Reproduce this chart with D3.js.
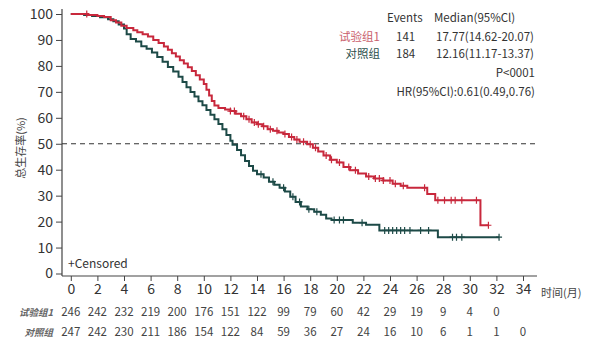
<!DOCTYPE html>
<html>
<head>
<meta charset="utf-8">
<script src="https://cdn.jsdelivr.net/npm/d3@7"></script>
<style>
  body { margin: 0; background: #fff; }
  text { font-family: "Noto Sans CJK SC", "Noto Sans", sans-serif; }
</style>
</head>
<body>
<div id="chart"></div>
<script>
'use strict';

// step points of the two KM curves: time (months) and survival (%)
const trialTimes = [0, 1.3, 2.0, 2.5, 3.0, 3.4, 3.8, 4.2, 4.7, 5.0, 5.4, 5.8, 6.2, 6.6, 7.0, 7.3, 7.6, 7.9, 8.2, 8.5, 8.8, 9.1, 9.4, 9.7, 10.0, 10.2, 10.4, 10.6, 10.8, 11.1, 11.6, 12.0, 12.4, 12.8, 13.2, 13.6, 14.0, 14.4, 14.8, 15.2, 15.6, 16.0, 16.4, 16.8, 17.2, 17.77, 18.2, 18.6, 19.0, 19.5, 20.0, 20.5, 21.0, 21.6, 22.2, 22.8, 23.5, 24.2, 24.8, 25.3, 26.8, 27.4, 30.8];
const trialSurv = [100, 99.6, 99.2, 98.8, 97.6, 96.7, 95.5, 94.6, 93.7, 93.0, 92.2, 91.3, 90.0, 88.8, 87.5, 86.2, 84.9, 83.6, 82.2, 80.9, 79.5, 78.0, 76.4, 74.8, 73.0, 70.8, 68.6, 66.5, 64.7, 63.8, 63.2, 62.6, 61.6, 60.6, 59.4, 58.2, 57.5, 56.7, 55.6, 55.0, 54.3, 53.8, 52.6, 51.6, 50.8, 49.8, 48.5, 47.0, 45.5, 43.8, 42.8, 41.0, 39.8, 38.5, 37.4, 36.6, 35.8, 34.6, 33.8, 33.0, 30.6, 28.2, 18.6];
const trialEnd = 31.4;
const trialCensor = [1.2, 12.0, 12.3, 13.0, 13.4, 13.8, 14.1, 14.5, 15.0, 15.5, 16.1, 16.6, 17.0, 17.5, 18.0, 18.4, 19.2, 19.6, 20.2, 20.9, 21.4, 22.4, 22.9, 23.2, 23.5, 24.0, 24.4, 25.0, 26.6, 27.6, 28.1, 28.6, 28.9, 29.4, 30.5, 31.4];

const ctrlTimes = [0, 1.0, 1.6, 2.2, 2.8, 3.2, 3.6, 4.0, 4.2, 4.5, 4.9, 5.3, 5.7, 6.1, 6.5, 6.9, 7.3, 7.7, 8.1, 8.4, 8.7, 9.0, 9.3, 9.6, 9.9, 10.2, 10.5, 10.8, 11.1, 11.4, 11.7, 12.0, 12.16, 12.5, 12.8, 13.1, 13.4, 13.7, 14.0, 14.5, 14.9, 15.3, 15.7, 16.1, 16.5, 16.9, 17.3, 17.8, 18.3, 18.8, 19.2, 19.6, 21.2, 22.2, 23.2, 27.6];
const ctrlSurv = [100, 99.6, 99.2, 98.7, 98.0, 97.2, 96.0, 94.4, 92.2, 90.4, 89.4, 87.6, 86.6, 85.2, 83.4, 81.6, 79.6, 77.8, 75.8, 73.8, 71.8, 69.9, 68.2, 66.4, 64.8, 63.0, 61.2, 59.4, 57.6, 55.6, 53.4, 51.2, 49.6, 47.6, 45.6, 43.4, 41.4, 39.6, 38.2, 37.0, 35.4, 34.2, 33.0, 31.6, 29.6, 27.6, 25.8, 24.8, 23.8, 22.6, 21.2, 20.6, 19.6, 18.8, 16.6, 14.0];
const ctrlEnd = 32.2;
const ctrlCensor = [14.3, 15.2, 16.0, 16.7, 17.2, 17.9, 18.5, 19.8, 20.2, 20.5, 21.9, 23.6, 23.9, 24.2, 24.5, 24.8, 25.1, 25.5, 26.3, 26.9, 28.7, 29.0, 29.4, 32.2];

// number at risk
const riskTimes = [0, 2, 4, 6, 8, 10, 12, 14, 16, 18, 20, 22, 24, 26, 28, 30, 32, 34];
const trialRisk = [246, 242, 232, 219, 200, 176, 151, 122, 99, 79, 60, 42, 29, 19, 9, 4, 0];
const ctrlRisk = [247, 242, 230, 211, 186, 154, 122, 84, 59, 36, 27, 24, 16, 10, 6, 1, 1, 0];

const xTicks = [0, 2, 4, 6, 8, 10, 12, 14, 16, 18, 20, 22, 24, 26, 28, 30, 32, 34];
const yTicks = [0, 10, 20, 30, 40, 50, 60, 70, 80, 90, 100];

const RED = "#c8283c";
const TEAL = "#1d4a47";

const width = 592, height = 349;
const svg = d3.select("#chart").append("svg")
    .attr("width", width)
    .attr("height", height);

const x = d3.scaleLinear().domain([0, 34]).range([70.8, 523]);
const y = d3.scaleLinear().domain([0, 100]).range([273.5, 14]);

// axes
const xAxis = svg.append("g")
    .attr("transform", "translate(0,276)")
    .call(d3.axisBottom(x).tickValues(xTicks).tickSize(5).tickPadding(3));
xAxis.select(".domain").attr("d", "M62,0H537").attr("stroke", "#444").attr("stroke-width", 1.2);
xAxis.selectAll(".tick line").attr("stroke", "#444");
xAxis.selectAll("text").attr("font-size", 14).attr("fill", "#333")
    .style("font-family", "'Noto Sans CJK SC', sans-serif");

const yAxis = svg.append("g")
    .attr("transform", "translate(62,0)")
    .call(d3.axisLeft(y).tickValues(yTicks).tickSize(6).tickPadding(3));
yAxis.select(".domain").attr("d", "M0,9V276").attr("stroke", "#444").attr("stroke-width", 1.2);
yAxis.selectAll(".tick line").attr("stroke", "#444");
yAxis.selectAll("text").attr("font-size", 14).attr("fill", "#333")
    .style("font-family", "'Noto Sans CJK SC', sans-serif");

// median reference line
svg.append("line")
    .attr("x1", 62).attr("x2", 537)
    .attr("y1", y(50)).attr("y2", y(50))
    .attr("stroke", "#333")
    .attr("stroke-dasharray", "5,4")
    .attr("stroke-width", 1);

function stepPoints(times, surv, end) {
    const pts = times.map((t, i) => [t, surv[i]]);
    pts.push([end, surv[surv.length - 1]]);
    return pts;
}

function survAt(times, surv, t) {
    let s = surv[0];
    for (let i = 0; i < times.length; i++) {
        if (times[i] <= t) s = surv[i];
    }
    return s;
}

const line = d3.line()
    .x(d => x(d[0]))
    .y(d => y(d[1]))
    .curve(d3.curveStepAfter);

function drawGroup(times, surv, end, censor, color) {
    svg.append("path")
        .datum(stepPoints(times, surv, end))
        .attr("d", line)
        .attr("fill", "none")
        .attr("stroke", color)
        .attr("stroke-width", 2);

    svg.selectAll(null)
        .data(censor)
        .enter()
        .append("path")
        .attr("d", function(t) {
            const cx = x(t), cy = y(survAt(times, surv, t));
            return `M${cx - 3},${cy}H${cx + 3}M${cx},${cy - 3.5}V${cy + 3.5}`;
        })
        .attr("stroke", color)
        .attr("stroke-width", 1.2);
}

drawGroup(ctrlTimes, ctrlSurv, ctrlEnd, ctrlCensor, TEAL);
drawGroup(trialTimes, trialSurv, trialEnd, trialCensor, RED);

// y axis title
svg.append("text")
    .text("总生存率(%)")
    .attr("transform", "translate(25,148) rotate(-90)")
    .attr("text-anchor", "middle")
    .attr("font-size", 11)
    .attr("fill", "#444");

// x axis title
svg.append("text")
    .text("时间(月)")
    .attr("x", 541).attr("y", 297)
    .attr("font-size", 11)
    .attr("fill", "#444");

svg.append("text")
    .text("+Censored")
    .attr("x", 68).attr("y", 268)
    .attr("font-size", 12)
    .attr("fill", "#333");

// legend block
const legend = svg.append("g").attr("font-size", 11.5).attr("fill", "#333");
legend.append("text").text("Events").attr("x", 387).attr("y", 22);
legend.append("text").text("Median(95%Cl)").attr("x", 434).attr("y", 22);
legend.append("text").text("试验组1").attr("x", 380).attr("y", 41).attr("text-anchor", "end").attr("fill", "#c9606c");
legend.append("text").text("141").attr("x", 396).attr("y", 41);
legend.append("text").text("17.77(14.62-20.07)").attr("x", 534).attr("y", 41).attr("text-anchor", "end");
legend.append("text").text("对照组").attr("x", 380).attr("y", 58).attr("text-anchor", "end").attr("fill", "#2d4f4c");
legend.append("text").text("184").attr("x", 396).attr("y", 58);
legend.append("text").text("12.16(11.17-13.37)").attr("x", 534).attr("y", 58).attr("text-anchor", "end");
legend.append("text").text("P<0001").attr("x", 535).attr("y", 77).attr("text-anchor", "end");
legend.append("text").text("HR(95%Cl):0.61(0.49,0.76)").attr("x", 535).attr("y", 96).attr("text-anchor", "end");

// risk table
function drawRiskRow(label, counts, yPos) {
    svg.append("text")
        .text(label)
        .attr("x", 53).attr("y", yPos)
        .attr("text-anchor", "end")
        .attr("font-size", 9.5)
        .attr("font-style", "italic")
        .attr("font-weight", "bold")
        .attr("fill", "#666");
    svg.selectAll(null)
        .data(counts)
        .enter()
        .append("text")
        .text(d => d)
        .attr("x", (d, i) => x(riskTimes[i]))
        .attr("y", yPos)
        .attr("text-anchor", "middle")
        .attr("font-size", 11.5)
        .attr("fill", "#444");
}

drawRiskRow("试验组1", trialRisk, 316);
drawRiskRow("对照组", ctrlRisk, 336);
</script>
</body>
</html>
